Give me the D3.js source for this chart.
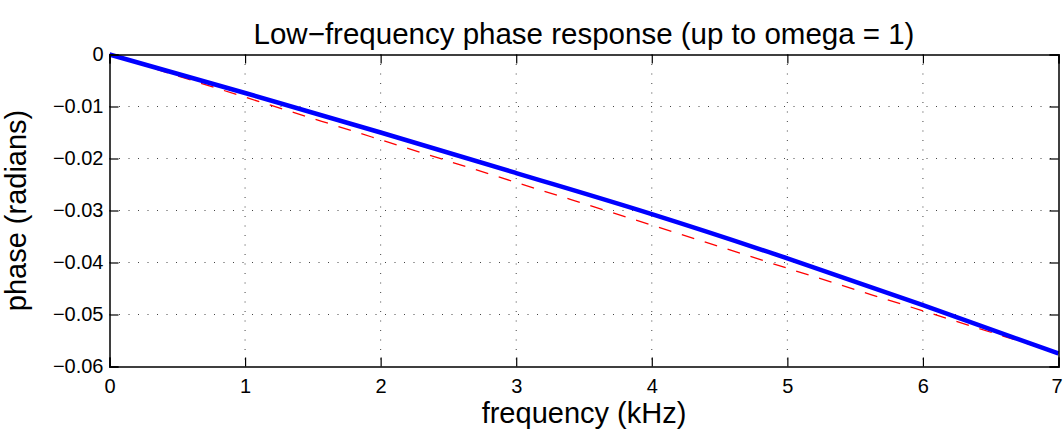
<!DOCTYPE html>
<html><head><meta charset="utf-8">
<script src="https://cdn.jsdelivr.net/npm/d3@7"></script>
<style>body{margin:0;background:#fff;}svg{display:block;font-family:"Liberation Sans",Arial,sans-serif;}</style>
</head><body>
<svg id="c" width="1063" height="431"></svg>
<script>
const freq = [0, 1, 2, 3, 4, 5, 6, 7];
const phaseActual = [0, -0.0074, -0.0150, -0.0228, -0.0307, -0.0392, -0.0482, -0.0575];
const phaseLinear = [0, -0.0082, -0.0164, -0.0246, -0.0328, -0.0411, -0.0493, -0.0575];
const xTicks = [0, 1, 2, 3, 4, 5, 6, 7];
const yTicks = [0, -0.01, -0.02, -0.03, -0.04, -0.05, -0.06];

const svg = d3.select("#c");
const L = 109.5, R = 1058.5, T = 54.5, B = 366.5;
const x = d3.scaleLinear().domain([0, 7]).range([L, R]);
const y = d3.scaleLinear().domain([-0.06, 0]).range([B, T]);
const fmtY = d => d === 0 ? "0" : "\u2212" + Math.abs(d).toFixed(2);

// grid
const g = svg.append("g");
g.selectAll("line.gx").data(xTicks.slice(1, -1)).join("line")
  .attr("x1", d => x(d)).attr("x2", d => x(d)).attr("y1", T).attr("y2", B)
  .attr("stroke", "#444").attr("stroke-width", 1).attr("stroke-dasharray", "1,8.5");
g.selectAll("line.gy").data(yTicks.slice(1, -1)).join("line")
  .attr("y1", d => y(d)).attr("y2", d => y(d)).attr("x1", L).attr("x2", R)
  .attr("stroke", "#444").attr("stroke-width", 1).attr("stroke-dasharray", "1,8.5");

// series
const pts = (ys) => freq.map((f, i) => [f, ys[i]]);
const line = d3.line().x(d => x(d[0])).y(d => y(d[1])).curve(d3.curveMonotoneX);
svg.append("path").attr("d", line(pts(phaseLinear))).attr("fill", "none")
  .attr("stroke", "#ff0000").attr("stroke-width", 1.3).attr("stroke-dasharray", "13,11");
svg.append("path").attr("d", line(pts(phaseActual))).attr("fill", "none")
  .attr("stroke", "#0000ff").attr("stroke-width", 4.5);

// axes (box with inward ticks)
const tickLen = 9;
const axB = d3.axisBottom(x).tickValues(xTicks).tickSize(-tickLen).tickPadding(0).tickFormat(d3.format("d"));
const axT = d3.axisTop(x).tickValues(xTicks).tickSize(-tickLen).tickFormat("");
const axL = d3.axisLeft(y).tickValues(yTicks).tickSize(-tickLen).tickPadding(6).tickFormat(fmtY);
const axR = d3.axisRight(y).tickValues(yTicks).tickSize(-tickLen).tickFormat("");
function style(sel) {
  sel.select(".domain").attr("stroke", "#000").attr("stroke-width", 1.5);
  sel.selectAll(".tick line").attr("stroke", "#000").attr("stroke-width", 1.2);
  sel.selectAll("text").attr("font-size", 20).attr("fill", "#000")
    .attr("font-family", "'Liberation Sans',Arial,sans-serif");
}
const gb = svg.append("g").attr("transform", `translate(0,${B})`).call(axB).call(style);
gb.selectAll(".tick text").attr("y", 26).attr("dy", null)
  .attr("dx", d => d === xTicks[xTicks.length - 1] ? -2 : 0);
svg.append("g").attr("transform", `translate(0,${T})`).call(axT).call(style);
svg.append("g").attr("transform", `translate(${L},0)`).call(axL).call(style);
svg.append("g").attr("transform", `translate(${R},0)`).call(axR).call(style);

// labels
svg.append("text").attr("x", (L + R) / 2).attr("y", 44).attr("text-anchor", "middle")
  .attr("font-size", 29.5).text("Low\u2212frequency phase response (up to omega = 1)");
svg.append("text").attr("x", (L + R) / 2).attr("y", 423).attr("text-anchor", "middle")
  .attr("font-size", 29).text("frequency (kHz)");
svg.append("text").attr("transform", `translate(26,${(T + B) / 2}) rotate(-90)`)
  .attr("text-anchor", "middle").attr("font-size", 29).text("phase (radians)");
</script>
</body></html>
